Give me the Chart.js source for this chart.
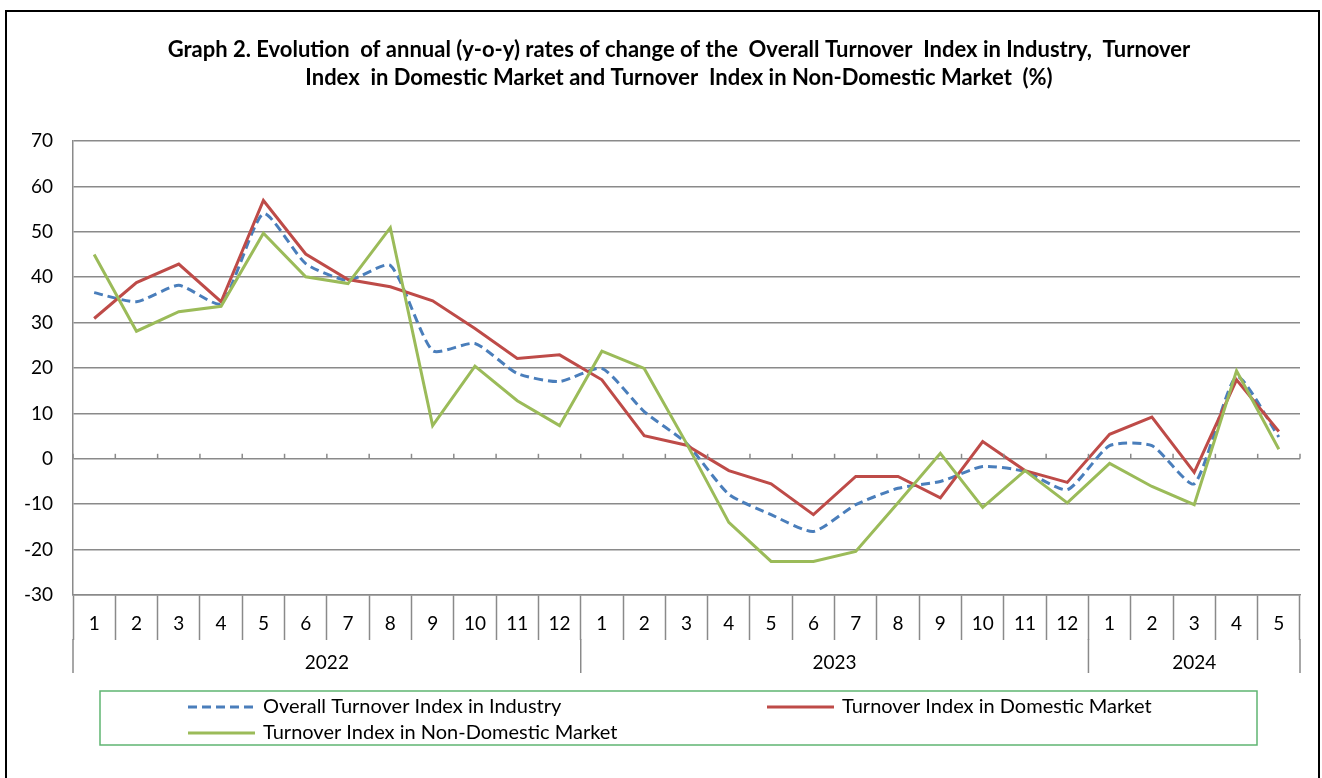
<!DOCTYPE html>
<html>
<head>
<meta charset="utf-8">
<script src="https://cdn.jsdelivr.net/npm/chart.js@4.4.1/dist/chart.umd.min.js"></script>
<style>
  html, body { margin: 0; padding: 0; background: #ffffff; }
  #wrap { position: relative; width: 1322px; height: 778px; }
</style>
</head>
<body>
<div id="wrap"><canvas id="turnoverChart"></canvas></div>
<script>
const monthLabels = ["1", "2", "3", "4", "5", "6", "7", "8", "9", "10", "11", "12",
  "1", "2", "3", "4", "5", "6", "7", "8", "9", "10", "11", "12",
  "1", "2", "3", "4", "5"];
const yearLabels = ["2022", "2023", "2024"];
const monthsPerYear = [12, 12, 5];

const overallIndex = [36.6, 34.6, 38.2, 34.2, 54.0, 43.0, 39.3, 42.6, 23.8, 25.4, 18.8, 17.0,
  19.9, 10.4, 3.4, -7.8, -12.3, -16.0, -10.1, -6.5, -5.0, -1.7, -2.8, -6.8,
  2.9, 2.9, -5.5, 18.1, 4.8];
const domesticIndex = [30.9, 38.8, 42.9, 34.6, 56.9, 45.1, 39.5, 37.9, 34.8, 28.7, 22.1, 22.9,
  17.4, 5.1, 3.0, -2.6, -5.5, -12.3, -3.9, -3.9, -8.6, 3.8, -2.6, -5.2,
  5.4, 9.2, -3.0, 17.4, 6.0];
const nonDomesticIndex = [45.0, 28.1, 32.4, 33.6, 49.7, 40.1, 38.6, 50.9, 7.3, 20.4, 12.8, 7.3,
  23.7, 19.9, 3.4, -14.0, -22.6, -22.6, -20.4, -9.7, 1.2, -10.7, -2.6, -9.7,
  -1.0, -6.1, -10.1, 19.4, 2.1];

const titleLines = [
  "Graph 2. Evolution  of annual (y-o-y) rates of change of the  Overall Turnover  Index in Industry,  Turnover",
  "Index  in Domestic Market and Turnover  Index in Non-Domestic Market  (%)"
];

const FONT = "Lato, 'Open Sans', sans-serif";
const GRID = "#8a8a8a";

// frame, title, year row, zero-line ticks, legend box
const decorPlugin = {
  id: "decor",
  beforeDraw(chart) {
    const ctx = chart.ctx;
    ctx.save();
    ctx.fillStyle = "#ffffff";
    ctx.fillRect(0, 0, chart.width, chart.height);
    ctx.strokeStyle = "#000000";
    ctx.lineWidth = 2;
    ctx.strokeRect(6, 11, 1313, 800);

    // title is a bit right of the page centre in the original
    ctx.fillStyle = "#000000";
    ctx.font = "bold 22px " + FONT;
    ctx.textAlign = "center";
    ctx.textBaseline = "middle";
    titleLines.forEach((line, i) => {
      ctx.fillText(line, 679, 50 + i * 28);
    });
    ctx.restore();
  },
  afterDraw(chart) {
    const ctx = chart.ctx;
    const x = chart.scales.x;
    const y = chart.scales.y;
    const n = monthLabels.length;
    const step = (x.right - x.left) / n;
    const area = chart.chartArea;

    ctx.save();
    ctx.strokeStyle = GRID;
    ctx.lineWidth = 1.5;

    // small ticks on the zero line
    const y0 = y.getPixelForValue(0);
    for (let i = 0; i <= n; i++) {
      const px = x.left + i * step;
      ctx.beginPath();
      ctx.moveTo(px, y0);
      ctx.lineTo(px, y0 - 5);
      ctx.stroke();
    }

    // year separators and labels
    let start = 0;
    const bounds = [0];
    monthsPerYear.forEach(c => { start += c; bounds.push(start); });
    bounds.forEach(b => {
      const px = x.left + b * step;
      ctx.beginPath();
      ctx.moveTo(px, area.bottom + 44);
      ctx.lineTo(px, area.bottom + 78);
      ctx.stroke();
    });
    ctx.fillStyle = "#000000";
    ctx.font = "19px " + FONT;
    ctx.textAlign = "center";
    ctx.textBaseline = "middle";
    yearLabels.forEach((label, i) => {
      const mid = x.left + (bounds[i] + bounds[i + 1]) / 2 * step;
      ctx.fillText(label, mid, area.bottom + 68);
    });

    // legend box
    ctx.strokeStyle = "#5fb572";
    ctx.lineWidth = 1.5;
    ctx.strokeRect(100, 691, 1157, 54);

    const items = [
      { ds: 0, x: 188, y: 707 },
      { ds: 1, x: 767, y: 707 },
      { ds: 2, x: 188, y: 733 }
    ];
    ctx.font = "20px " + FONT;
    ctx.textAlign = "left";
    items.forEach(item => {
      const ds = chart.data.datasets[item.ds];
      ctx.strokeStyle = ds.borderColor;
      ctx.lineWidth = ds.borderWidth;
      ctx.setLineDash(ds.borderDash || []);
      ctx.beginPath();
      ctx.moveTo(item.x, item.y);
      ctx.lineTo(item.x + 67, item.y);
      ctx.stroke();
      ctx.setLineDash([]);
      ctx.fillStyle = "#000000";
      ctx.fillText(ds.label, item.x + 75, item.y);
    });
    ctx.restore();
  }
};

function initTurnoverChart() {
  const canvas = document.getElementById("turnoverChart");
  return new Chart(canvas, {
    type: "line",
    data: {
      labels: monthLabels,
      datasets: [
        {
          label: "Overall Turnover Index in Industry",
          data: overallIndex,
          borderColor: "#4a7ebb",
          borderWidth: 3,
          borderDash: [9, 5],
          tension: 0.2,
          pointRadius: 0,
          order: 3
        },
        {
          label: "Turnover Index in Domestic Market",
          data: domesticIndex,
          borderColor: "#be4b48",
          borderWidth: 3,
          tension: 0,
          pointRadius: 0,
          order: 2
        },
        {
          label: "Turnover Index in Non-Domestic Market",
          data: nonDomesticIndex,
          borderColor: "#9bbb59",
          borderWidth: 3,
          tension: 0,
          pointRadius: 0,
          order: 1
        }
      ]
    },
    options: {
      responsive: true,
      maintainAspectRatio: false,
      animation: false,
      layout: { padding: { left: 0, right: 22, top: 141, bottom: 0 } },
      plugins: {
        legend: { display: false },
        tooltip: { enabled: false },
        title: { display: false }
      },
      scales: {
        x: {
          offset: true,
          grid: {
            offset: true,
            drawOnChartArea: false,
            drawTicks: true,
            tickLength: 45,
            tickColor: GRID,
            tickWidth: 1.5
          },
          border: { display: true, color: GRID, width: 1.5 },
          ticks: {
            color: "#000000",
            font: { family: FONT, size: 19 },
            padding: -28,
            maxRotation: 0,
            autoSkip: false
          },
          afterFit(scale) {
            scale.height = 183;
          }
        },
        y: {
          min: -30,
          max: 70,
          grid: {
            color: GRID,
            lineWidth: 1.5,
            drawTicks: false
          },
          border: { display: true, color: GRID, width: 1.5 },
          ticks: {
            stepSize: 10,
            color: "#000000",
            font: { family: FONT, size: 19 },
            padding: 20
          },
          afterFit(scale) {
            scale.width = 73;
          }
        }
      }
    },
    plugins: [decorPlugin]
  });
}

initTurnoverChart();
</script>
</body>
</html>
